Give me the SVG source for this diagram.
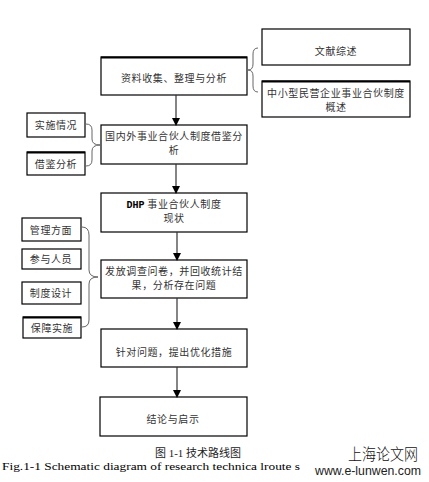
<svg xmlns="http://www.w3.org/2000/svg" width="429" height="482" viewBox="0 0 429 482">
<style>
.box{fill:#fff;stroke:#000;stroke-width:1.2}
.t{font-family:"Noto Sans CJK SC","Liberation Serif",sans-serif;font-size:10px;fill:#333;text-anchor:middle;letter-spacing:0.6px}
.br{fill:none;stroke:#555;stroke-width:0.9}
.ln{stroke:#333;stroke-width:1.2}
</style>
<defs><marker id="ah" markerWidth="8" markerHeight="8" refX="7" refY="4" orient="auto" markerUnits="userSpaceOnUse"><path d="M0,0 L8,4 L0,8 z" fill="#000"/></marker></defs>
<rect width="429" height="482" fill="#fff"/>
<g id="n1"><rect class="box" x="101" y="57" width="146" height="38"/><path d="M101,57.5 H247" stroke="#000" stroke-width="2"/><text class="t" x="174" y="82">资料收集、整理与分析</text></g>
<g id="r1"><rect class="box" x="262" y="29" width="148" height="36"/><text class="t" x="336" y="55">文献综述</text></g>
<g id="r2"><rect class="box" x="262" y="81" width="148" height="36"/><path d="M262,81.5 H410" stroke="#000" stroke-width="2"/><text class="t" x="336" y="97">中小型民营企业事业合伙制度</text><text class="t" x="336" y="111">概述</text></g>
<g id="n2"><rect class="box" x="101" y="125" width="146" height="39"/><text class="t" x="174" y="140">国内外事业合伙人制度借鉴分</text><text class="t" x="174" y="154">析</text></g>
<g id="l1"><rect class="box" x="27" y="113" width="58" height="24"/><text class="t" x="56" y="129">实施情况</text></g>
<g id="l2"><rect class="box" x="27" y="152" width="58" height="23"/><path d="M27,152.5 H85" stroke="#000" stroke-width="2"/><text class="t" x="56" y="168">借鉴分析</text></g>
<g id="n3"><rect class="box" x="101" y="193" width="146" height="39" stroke-width="1.6"/><text class="t" x="174" y="208"><tspan font-family="Liberation Mono" font-weight="bold" fill="#000" letter-spacing="0">DHP</tspan> 事业合伙人制度</text><text class="t" x="174" y="222">现状</text></g>
<g id="n4"><rect class="box" x="101" y="260" width="146" height="38"/><text class="t" x="174" y="275">发放调查问卷，并回收统计结</text><text class="t" x="174" y="289">果，分析存在问题</text></g>
<g id="l3"><rect class="box" x="22" y="218" width="59" height="23"/><text class="t" x="51" y="234">管理方面</text></g>
<g id="l4"><rect class="box" x="22" y="249" width="59" height="20"/><text class="t" x="51" y="263">参与人员</text></g>
<g id="l5"><rect class="box" x="22" y="282" width="59" height="22"/><text class="t" x="51" y="297">制度设计</text></g>
<g id="l6"><rect class="box" x="23" y="317" width="58" height="21"/><path d="M23,317.5 H81" stroke="#000" stroke-width="2"/><text class="t" x="52" y="332">保障实施</text></g>
<g id="n5"><rect class="box" x="101" y="329" width="146" height="38"/><text class="t" x="174" y="356">针对问题，提出优化措施</text></g>
<g id="n6"><rect class="box" x="100" y="397" width="147" height="39"/><text class="t" x="173" y="423">结论与启示</text></g>
<g id="connectors">
<line class="ln" x1="176" y1="95" x2="176" y2="125" marker-end="url(#ah)"/>
<line class="ln" x1="176" y1="164" x2="176" y2="193" marker-end="url(#ah)"/>
<line class="ln" x1="177" y1="232" x2="177" y2="260" marker-end="url(#ah)"/>
<line class="ln" x1="177" y1="298" x2="177" y2="329" marker-end="url(#ah)"/>
<line class="ln" x1="177" y1="367" x2="177" y2="397" marker-end="url(#ah)"/>
<path class="br" d="M258,48 Q253,48 253,54 V64 Q253,70 248,70 Q253,70 253,76 V86 Q253,92 258,92"/>
<path class="br" d="M86,124 Q92,124 92,130 V139 Q92,145 100,145 Q92,145 92,151 V160 Q92,166 86,166"/>
<path class="br" d="M82,227 Q89,227 89,235 V270 Q89,277 98,277 Q89,277 89,284 V320 Q89,327 82,327"/>
</g>
<text x="198" y="457" style="font-family:'Liberation Serif','Noto Sans CJK SC',serif;font-size:11px;text-anchor:middle;fill:#222">图 1-1  技术路线图</text>
<text x="2" y="470" textLength="298" lengthAdjust="spacingAndGlyphs" style="font-family:'Liberation Serif',serif;font-size:11px;fill:#000">Fig.1-1 Schematic diagram of research technica lroute s</text>
<text x="348" y="460" textLength="70" lengthAdjust="spacingAndGlyphs" style="font-family:'Noto Sans CJK SC',sans-serif;font-size:16px;font-weight:300;fill:#111">上海论文网</text>
<text x="315" y="475" textLength="106" lengthAdjust="spacingAndGlyphs" style="font-family:'Liberation Sans',sans-serif;font-size:12.5px;fill:#222">www.e-lunwen.com</text>
</svg>
